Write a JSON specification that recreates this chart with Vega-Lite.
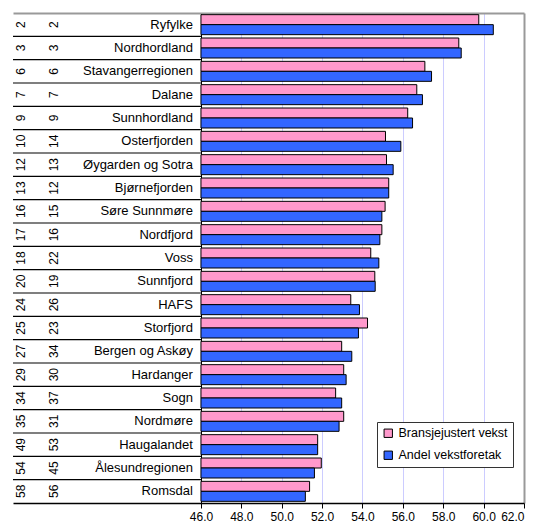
{
  "$schema": "https://vega.github.io/schema/vega-lite/v6.json",
  "padding": {"left": 12, "top": 13, "right": 12, "bottom": 0},
  "width": 511,
  "height": 490,
  "config": {"font": "Liberation Sans", "view": {"stroke": null}},
  "data": {
    "values": [
      {"region": "Ryfylke", "serie": "Bransjejustert vekst", "value": 59.76, "rank": 2},
      {"region": "Ryfylke", "serie": "Andel vekstforetak", "value": 60.48, "rank": 2},
      {"region": "Nordhordland", "serie": "Bransjejustert vekst", "value": 58.77, "rank": 3},
      {"region": "Nordhordland", "serie": "Andel vekstforetak", "value": 58.89, "rank": 3},
      {"region": "Stavangerregionen", "serie": "Bransjejustert vekst", "value": 57.09, "rank": 6},
      {"region": "Stavangerregionen", "serie": "Andel vekstforetak", "value": 57.42, "rank": 6},
      {"region": "Dalane", "serie": "Bransjejustert vekst", "value": 56.69, "rank": 7},
      {"region": "Dalane", "serie": "Andel vekstforetak", "value": 56.97, "rank": 7},
      {"region": "Sunnhordland", "serie": "Bransjejustert vekst", "value": 56.24, "rank": 9},
      {"region": "Sunnhordland", "serie": "Andel vekstforetak", "value": 56.48, "rank": 9},
      {"region": "Osterfjorden", "serie": "Bransjejustert vekst", "value": 55.14, "rank": 10},
      {"region": "Osterfjorden", "serie": "Andel vekstforetak", "value": 55.90, "rank": 14},
      {"region": "Øygarden og Sotra", "serie": "Bransjejustert vekst", "value": 55.19, "rank": 12},
      {"region": "Øygarden og Sotra", "serie": "Andel vekstforetak", "value": 55.52, "rank": 13},
      {"region": "Bjørnefjorden", "serie": "Bransjejustert vekst", "value": 55.30, "rank": 13},
      {"region": "Bjørnefjorden", "serie": "Andel vekstforetak", "value": 55.30, "rank": 12},
      {"region": "Søre Sunnmøre", "serie": "Bransjejustert vekst", "value": 55.12, "rank": 16},
      {"region": "Søre Sunnmøre", "serie": "Andel vekstforetak", "value": 54.96, "rank": 15},
      {"region": "Nordfjord", "serie": "Bransjejustert vekst", "value": 54.96, "rank": 17},
      {"region": "Nordfjord", "serie": "Andel vekstforetak", "value": 54.86, "rank": 16},
      {"region": "Voss", "serie": "Bransjejustert vekst", "value": 54.41, "rank": 18},
      {"region": "Voss", "serie": "Andel vekstforetak", "value": 54.81, "rank": 22},
      {"region": "Sunnfjord", "serie": "Bransjejustert vekst", "value": 54.61, "rank": 20},
      {"region": "Sunnfjord", "serie": "Andel vekstforetak", "value": 54.63, "rank": 19},
      {"region": "HAFS", "serie": "Bransjejustert vekst", "value": 53.42, "rank": 24},
      {"region": "HAFS", "serie": "Andel vekstforetak", "value": 53.85, "rank": 26},
      {"region": "Storfjord", "serie": "Bransjejustert vekst", "value": 54.25, "rank": 25},
      {"region": "Storfjord", "serie": "Andel vekstforetak", "value": 53.80, "rank": 23},
      {"region": "Bergen og Askøy", "serie": "Bransjejustert vekst", "value": 52.97, "rank": 27},
      {"region": "Bergen og Askøy", "serie": "Andel vekstforetak", "value": 53.47, "rank": 34},
      {"region": "Hardanger", "serie": "Bransjejustert vekst", "value": 53.07, "rank": 29},
      {"region": "Hardanger", "serie": "Andel vekstforetak", "value": 53.19, "rank": 30},
      {"region": "Sogn", "serie": "Bransjejustert vekst", "value": 52.67, "rank": 34},
      {"region": "Sogn", "serie": "Andel vekstforetak", "value": 52.97, "rank": 37},
      {"region": "Nordmøre", "serie": "Bransjejustert vekst", "value": 53.07, "rank": 35},
      {"region": "Nordmøre", "serie": "Andel vekstforetak", "value": 52.84, "rank": 31},
      {"region": "Haugalandet", "serie": "Bransjejustert vekst", "value": 51.78, "rank": 49},
      {"region": "Haugalandet", "serie": "Andel vekstforetak", "value": 51.78, "rank": 53},
      {"region": "Ålesundregionen", "serie": "Bransjejustert vekst", "value": 51.96, "rank": 54},
      {"region": "Ålesundregionen", "serie": "Andel vekstforetak", "value": 51.62, "rank": 45},
      {"region": "Romsdal", "serie": "Bransjejustert vekst", "value": 51.38, "rank": 58},
      {"region": "Romsdal", "serie": "Andel vekstforetak", "value": 51.17, "rank": 56}
    ]
  },
  "resolve": {"axis": {"x": "independent"}},
  "layer": [
    {
      "mark": {"type": "bar", "stroke": "black", "strokeWidth": 1},
      "encoding": {
        "y": {
          "field": "region", "type": "nominal",
          "sort": ["Ryfylke", "Nordhordland", "Stavangerregionen", "Dalane", "Sunnhordland", "Osterfjorden", "Øygarden og Sotra", "Bjørnefjorden", "Søre Sunnmøre", "Nordfjord", "Voss", "Sunnfjord", "HAFS", "Storfjord", "Bergen og Askøy", "Hardanger", "Sogn", "Nordmøre", "Haugalandet", "Ålesundregionen", "Romsdal"],
          "scale": {"paddingInner": 0, "paddingOuter": 0},
          "axis": null
        },
        "yOffset": {
          "field": "serie", "type": "nominal",
          "sort": ["Bransjejustert vekst", "Andel vekstforetak"],
          "scale": {"paddingInner": 0, "paddingOuter": 0.1667}
        },
        "x": {
          "field": "value", "type": "quantitative",
          "scale": {"domain": [36.69, 62], "zero": false, "nice": false},
          "axis": {
            "orient": "bottom", "title": null,
            "values": [46, 48, 50, 52, 54, 56, 58, 60, 62], "format": ".1f",
            "grid": true,
            "gridColor": {"condition": [{"test": "datum.value === 46", "value": "black"}, {"test": "datum.value === 62", "value": "#999999"}], "value": "#ccccff"},
            "gridWidth": {"condition": {"test": "datum.value === 62", "value": 2}, "value": 1},
            "gridOpacity": 1,
            "tickColor": "black", "tickSize": 5, "domainColor": "black", "domainWidth": 1.5,
            "labelFontSize": 12, "labelColor": "black", "labelFont": "Liberation Sans", "labelPadding": 3
          }
        },
        "x2": {"datum": 46},
        "color": {
          "field": "serie", "type": "nominal",
          "scale": {"domain": ["Bransjejustert vekst", "Andel vekstforetak"], "range": ["#ff99cc", "#3366ff"]},
          "legend": {"title": null, "orient": "none", "legendX": 364, "legendY": 409, "fillColor": "white", "strokeColor": "#333333", "padding": 5, "labelFontSize": 12.5, "labelFont": "Liberation Sans", "labelColor": "black", "labelOffset": 4, "symbolType": "square", "symbolSize": 70, "symbolStrokeColor": "black", "symbolStrokeWidth": 1, "symbolOpacity": 1, "rowPadding": 9}
        }
      }
    },
    {
      "transform": [{"filter": "datum.serie === 'Bransjejustert vekst' && datum.region !== 'Ryfylke'"}],
      "mark": {"type": "rule", "color": "black", "strokeWidth": 1.2},
      "encoding": {
        "y": {
          "field": "region", "type": "nominal", "bandPosition": 0,
          "sort": ["Ryfylke", "Nordhordland", "Stavangerregionen", "Dalane", "Sunnhordland", "Osterfjorden", "Øygarden og Sotra", "Bjørnefjorden", "Søre Sunnmøre", "Nordfjord", "Voss", "Sunnfjord", "HAFS", "Storfjord", "Bergen og Askøy", "Hardanger", "Sogn", "Nordmøre", "Haugalandet", "Ålesundregionen", "Romsdal"],
          "axis": null
        },
        "x": {"datum": 36.69, "axis": {"orient": "top", "labels": false, "ticks": false, "grid": false, "domainColor": "#999999", "domainWidth": 2, "title": null}},
        "x2": {"datum": 46}
      }
    },
    {
      "transform": [{"filter": "datum.serie === 'Bransjejustert vekst'"}],
      "mark": {"type": "text", "angle": 270, "fontSize": 12, "font": "Liberation Sans", "color": "black", "align": "center", "baseline": "middle"},
      "encoding": {
        "y": {
          "field": "region", "type": "nominal",
          "sort": ["Ryfylke", "Nordhordland", "Stavangerregionen", "Dalane", "Sunnhordland", "Osterfjorden", "Øygarden og Sotra", "Bjørnefjorden", "Søre Sunnmøre", "Nordfjord", "Voss", "Sunnfjord", "HAFS", "Storfjord", "Bergen og Askøy", "Hardanger", "Sogn", "Nordmøre", "Haugalandet", "Ålesundregionen", "Romsdal"],
          "axis": null
        },
        "x": {"datum": 37.09, "axis": null},
        "text": {"field": "rank", "type": "quantitative"}
      }
    },
    {
      "transform": [{"filter": "datum.serie === 'Andel vekstforetak'"}],
      "mark": {"type": "text", "angle": 270, "fontSize": 12, "font": "Liberation Sans", "color": "black", "align": "center", "baseline": "middle"},
      "encoding": {
        "y": {
          "field": "region", "type": "nominal",
          "sort": ["Ryfylke", "Nordhordland", "Stavangerregionen", "Dalane", "Sunnhordland", "Osterfjorden", "Øygarden og Sotra", "Bjørnefjorden", "Søre Sunnmøre", "Nordfjord", "Voss", "Sunnfjord", "HAFS", "Storfjord", "Bergen og Askøy", "Hardanger", "Sogn", "Nordmøre", "Haugalandet", "Ålesundregionen", "Romsdal"],
          "axis": null
        },
        "x": {"datum": 38.72, "axis": null},
        "text": {"field": "rank", "type": "quantitative"}
      }
    },
    {
      "transform": [{"filter": "datum.serie === 'Bransjejustert vekst'"}],
      "mark": {"type": "text", "fontSize": 13, "font": "Liberation Sans", "color": "black", "align": "right", "baseline": "middle"},
      "encoding": {
        "y": {
          "field": "region", "type": "nominal",
          "sort": ["Ryfylke", "Nordhordland", "Stavangerregionen", "Dalane", "Sunnhordland", "Osterfjorden", "Øygarden og Sotra", "Bjørnefjorden", "Søre Sunnmøre", "Nordfjord", "Voss", "Sunnfjord", "HAFS", "Storfjord", "Bergen og Askøy", "Hardanger", "Sogn", "Nordmøre", "Haugalandet", "Ålesundregionen", "Romsdal"],
          "axis": null
        },
        "x": {"datum": 45.6, "axis": null},
        "text": {"field": "region", "type": "nominal"}
      }
    }
  ]
}
